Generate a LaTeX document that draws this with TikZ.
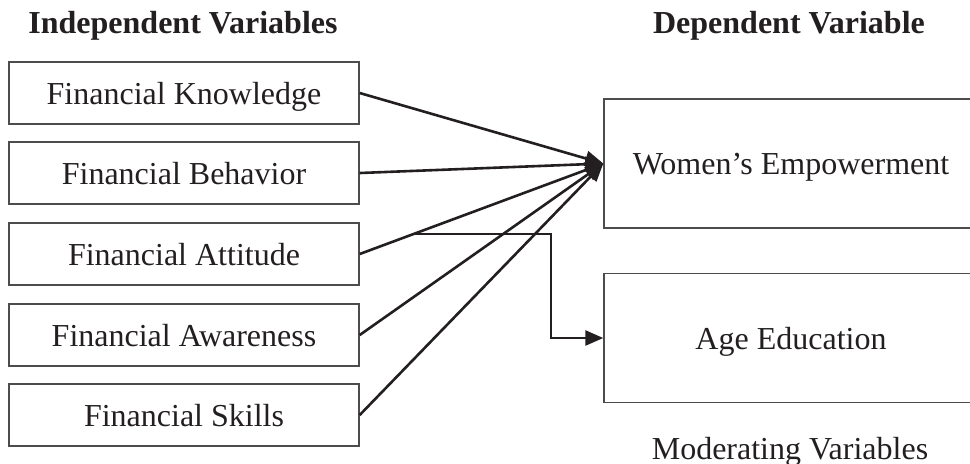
\documentclass[tikz,border=0pt]{standalone}
\usepackage{fontspec}
\setmainfont{Liberation Serif}
\usetikzlibrary{arrows.meta}
\definecolor{inkblack}{HTML}{231F20}

\begin{document}
\begin{tikzpicture}[x=0.5pt,y=-0.5pt,text=inkblack,
  varbox/.style={draw=black!70,line width=0.7pt,minimum width=175pt,
    minimum height=31pt,inner sep=0pt,text depth=0pt,
    font=\fontsize{16}{19}\selectfont},
  bigbox/.style={varbox,minimum width=187pt,minimum height=64.5pt},
  heading/.style={anchor=base,font=\fontsize{16}{19}\selectfont\bfseries},
  link/.style={draw=inkblack,line width=1.3pt,
    -{Triangle[length=9pt,width=7.5pt]}}]
\useasboundingbox (0,0) rectangle (970,463);

% headings
\node[heading] (indep) at (183,33) {Independent Variables};
\node[heading] (dep) at (789,33) {Dependent Variable};

% independent variables
\node[varbox] (know) at (184,93) {Financial Knowledge};
\node[varbox] (behav) at (184,173) {Financial Behavior};
\node[varbox] (attit) at (184,254) {Financial Attitude};
\node[varbox] (aware) at (184,335) {Financial Awareness};
\node[varbox] (skill) at (184,415) {Financial Skills};

% dependent and moderating
\node[bigbox] (wemp) at (791,163.5) {Women's Empowerment};
\node[bigbox] (ageedu) at (791,338) {Age Education};
\node[anchor=base,font=\fontsize{16}{19}\selectfont] (moder) at (790,459)
{Moderating Variables};

\draw[link] (know.east) -- (wemp.west);
\draw[link] (behav.east) -- (wemp.west);
\draw[link] (attit.east) -- coordinate[pos=0.22] (branch) (wemp.west);
\draw[link] (aware.east) -- (wemp.west);
\draw[link] (skill.east) -- (wemp.west);

\coordinate (turn) at (551,236);
\draw[link] (branch) -- (branch -| turn) |- (ageedu.west);
\end{tikzpicture}
\end{document}
